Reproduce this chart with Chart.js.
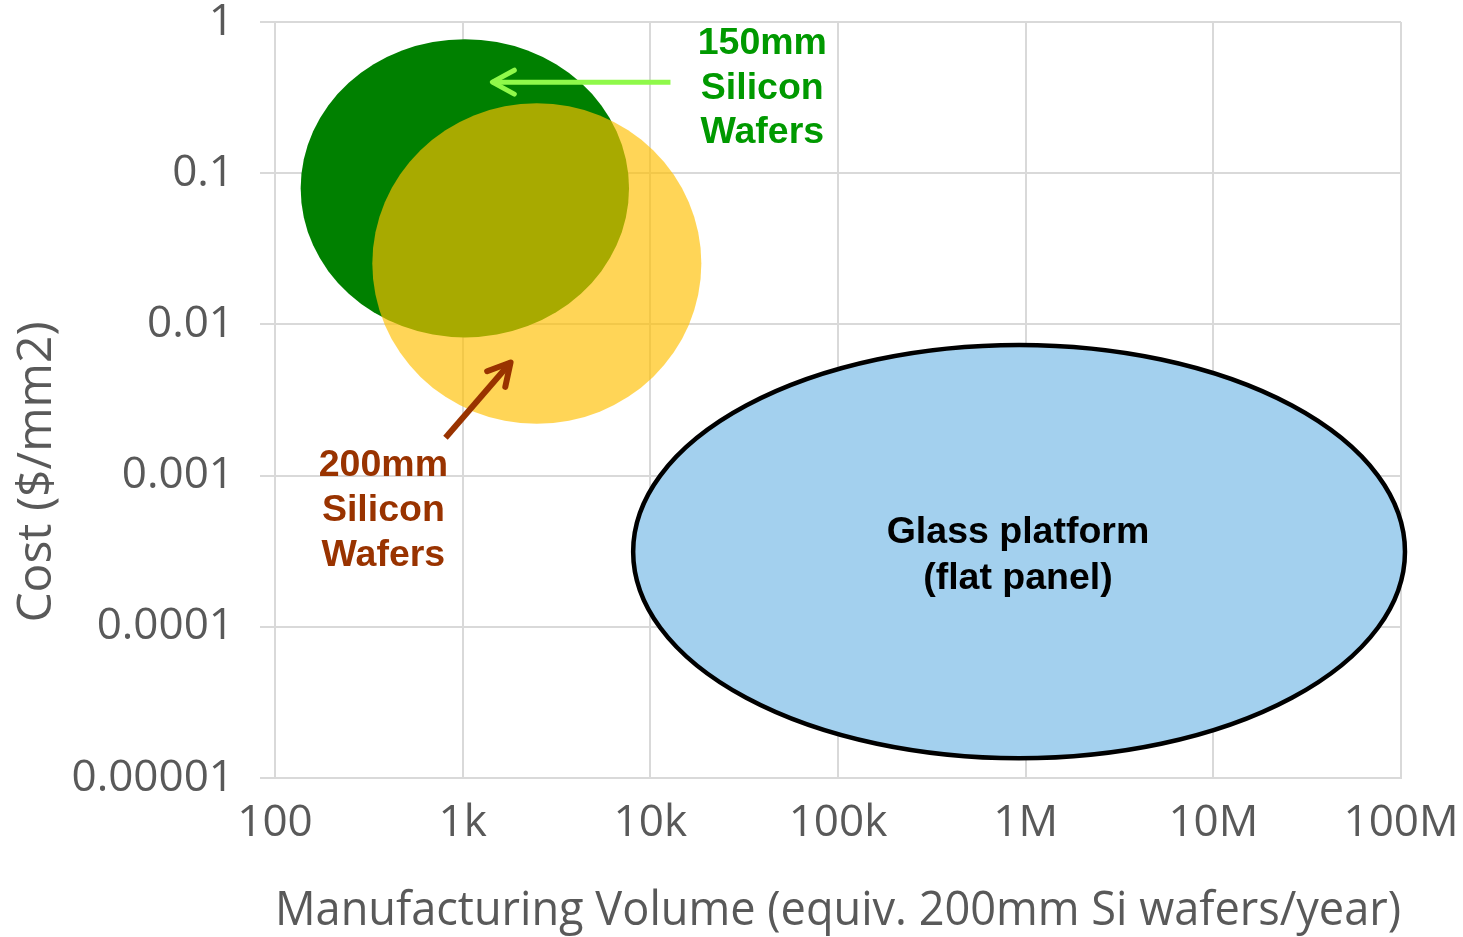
<!DOCTYPE html>
<html>
<head>
<meta charset="utf-8">
<title>Cost vs. manufacturing volume by platform</title>
<script src="https://cdn.jsdelivr.net/npm/chart.js@4/dist/chart.umd.min.js"></script>
<style>
  html, body { margin: 0; padding: 0; background: #ffffff; }
  #wrap { width: 1463px; height: 937px; position: relative; }
</style>
</head>
<body>
<div id="wrap"><canvas id="chart"></canvas></div>
<script>
// Log-decade ticks on both axes
const volumeTicks = [1e2, 1e3, 1e4, 1e5, 1e6, 1e7, 1e8];
const volumeTickLabels = ['100', '1k', '10k', '100k', '1M', '10M', '100M'];
const costTicks = [1e-5, 1e-4, 1e-3, 1e-2, 1e-1, 1];
const costTickLabels = ['0.00001', '0.0001', '0.001', '0.01', '0.1', '1'];

// Platform regions: manufacturing volume range and cost range
const regionNames = ['150mm Silicon Wafers', '200mm Silicon Wafers', 'Glass platform'];
const regionVolumeMin = [137, 330, 8100];
const regionVolumeMax = [7700, 18700, 1.05e8];
const regionCostMin = [0.0082, 0.0022, 1.35e-5];
const regionCostMax = [0.77, 0.29, 0.0073];

// Callout arrows, tail then tip
const arrowVolume = [[12800, 1440], [810, 1800]];
const arrowCost = [[0.40, 0.40], [0.00178, 0.0056]];

// Region labels, anchored at the centre of each text block
const labelLines = [['150mm', 'Silicon', 'Wafers'], ['200mm', 'Silicon', 'Wafers'], ['Glass platform', '(flat panel)']];
const labelVolume = [39500, 378, 9.1e5];
const labelCost = [0.374, 6.03e-4, 3.04e-4];

const regionStyle = [
  { fill: '#008000', stroke: null, width: 0 },
  { fill: 'rgba(255, 192, 0, 0.66)', stroke: null, width: 0 },
  { fill: '#A3D0EE', stroke: '#000000', width: 4.5 }
];
const arrowStyle = [
  { color: '#8FF94A', width: 5, head: 25 },
  { color: '#993300', width: 6, head: 25 }
];
const labelStyle = [
  { color: '#009900', lineHeight: 44.5 },
  { color: '#993300', lineHeight: 45 },
  { color: '#000000', lineHeight: 46 }
];

const AXIS_FONT = '"Open Sans", Lato, sans-serif';
const AXIS_COLOR = '#595959';
const TICK_SIZE = 44;
const TITLE_SIZE = 48;
const LABEL_FONT = 'bold 37.5px "Liberation Sans", Arial, sans-serif';
const LABEL_NUDGE = 2;

// Region datasets: two opposite corners of the bounding box (drawn as ellipses)
const regionDatasets = regionNames.map((name, i) => ({
  label: name,
  data: [
    { x: regionVolumeMin[i], y: regionCostMin[i] },
    { x: regionVolumeMax[i], y: regionCostMax[i] }
  ],
  showLine: false,
  pointRadius: 0,
  pointHoverRadius: 0
}));

// Arrow datasets: straight shafts drawn by the line controller
const arrowDatasets = arrowVolume.map((xs, i) => ({
  label: 'arrow' + i,
  data: [
    { x: xs[0], y: arrowCost[i][0] },
    { x: xs[1], y: arrowCost[i][1] }
  ],
  showLine: true,
  borderColor: arrowStyle[i].color,
  borderWidth: arrowStyle[i].width,
  borderCapStyle: 'butt',
  pointRadius: 0,
  pointHoverRadius: 0,
  fill: false
}));

function boxOf(meta) {
  const a = meta.data[0], b = meta.data[1];
  return {
    cx: (a.x + b.x) / 2, cy: (a.y + b.y) / 2,
    rx: Math.abs(b.x - a.x) / 2, ry: Math.abs(b.y - a.y) / 2
  };
}

const regionPlugin = {
  id: 'regionEllipses',
  beforeDatasetsDraw(chart) {
    const ctx = chart.ctx;
    ctx.save();
    regionNames.forEach((_, i) => {
      const e = boxOf(chart.getDatasetMeta(i));
      const st = regionStyle[i];
      ctx.beginPath();
      ctx.ellipse(e.cx, e.cy, e.rx, e.ry, 0, 0, Math.PI * 2);
      ctx.fillStyle = st.fill;
      ctx.fill();
      if (st.stroke) {
        ctx.lineWidth = st.width;
        ctx.strokeStyle = st.stroke;
        ctx.stroke();
      }
    });
    ctx.restore();
  },
  afterDatasetsDraw(chart) {
    const ctx = chart.ctx;
    const xs = chart.scales.x, ys = chart.scales.y;
    ctx.save();
    // arrowheads at the tip of each shaft
    arrowVolume.forEach((_, i) => {
      const meta = chart.getDatasetMeta(regionNames.length + i);
      const t = meta.data[0], h = meta.data[1];
      const ang = Math.atan2(h.y - t.y, h.x - t.x);
      const len = arrowStyle[i].head, spread = 0.5;
      ctx.beginPath();
      ctx.moveTo(h.x - len * Math.cos(ang - spread), h.y - len * Math.sin(ang - spread));
      ctx.lineTo(h.x, h.y);
      ctx.lineTo(h.x - len * Math.cos(ang + spread), h.y - len * Math.sin(ang + spread));
      ctx.strokeStyle = arrowStyle[i].color;
      ctx.lineWidth = arrowStyle[i].width;
      ctx.lineCap = 'round';
      ctx.lineJoin = 'round';
      ctx.stroke();
    });
    // region labels
    ctx.font = LABEL_FONT;
    ctx.textAlign = 'center';
    ctx.textBaseline = 'middle';
    labelLines.forEach((lines, i) => {
      const px = xs.getPixelForValue(labelVolume[i]);
      const py = ys.getPixelForValue(labelCost[i]) + LABEL_NUDGE;
      const lh = labelStyle[i].lineHeight;
      const y0 = py - (lines.length - 1) * lh / 2;
      ctx.fillStyle = labelStyle[i].color;
      lines.forEach((s, k) => ctx.fillText(s, px, y0 + k * lh));
    });
    ctx.restore();
  },
  afterDraw(chart) {
    // vertical axis title
    const ctx = chart.ctx;
    ctx.save();
    ctx.translate(37, 472);
    ctx.rotate(-Math.PI / 2);
    ctx.font = TITLE_SIZE + 'px ' + AXIS_FONT;
    ctx.fillStyle = AXIS_COLOR;
    ctx.textAlign = 'center';
    ctx.textBaseline = 'middle';
    ctx.fillText('Cost ($/mm2)', 0, 0);
    ctx.restore();
  }
};

new Chart(document.getElementById('chart'), {
  type: 'scatter',
  data: { datasets: regionDatasets.concat(arrowDatasets) },
  options: {
    responsive: true,
    maintainAspectRatio: false,
    animation: false,
    events: [],
    layout: { padding: { left: 0, top: 22, right: 62, bottom: 0 } },
    plugins: { legend: { display: false }, tooltip: { enabled: false } },
    scales: {
      x: {
        type: 'logarithmic',
        min: volumeTicks[0],
        max: volumeTicks[volumeTicks.length - 1],
        afterBuildTicks: s => { s.ticks = volumeTicks.map(v => ({ value: v })); },
        afterFit: s => { s.height = 159; s.paddingLeft = 0; s.paddingRight = 0; },
        ticks: {
          autoSkip: false, maxRotation: 0, minRotation: 0, padding: 19,
          font: { family: AXIS_FONT, size: TICK_SIZE }, color: AXIS_COLOR,
          callback: v => volumeTickLabels[volumeTicks.indexOf(v)]
        },
        grid: { color: '#d9d9d9', lineWidth: 2, drawTicks: false },
        border: { color: '#d9d9d9', width: 2 },
        title: {
          display: true,
          text: 'Manufacturing Volume (equiv. 200mm Si wafers/year)',
          font: { family: AXIS_FONT, size: TITLE_SIZE, lineHeight: 1.08 }, color: AXIS_COLOR,
          padding: { top: 0, bottom: 0 }
        }
      },
      y: {
        type: 'logarithmic',
        min: costTicks[0],
        max: costTicks[costTicks.length - 1],
        afterBuildTicks: s => { s.ticks = costTicks.map(v => ({ value: v })); },
        afterFit: s => { s.width = 275; s.paddingTop = 0; s.paddingBottom = 0; },
        ticks: {
          autoSkip: false, padding: 26,
          font: { family: AXIS_FONT, size: TICK_SIZE }, color: AXIS_COLOR,
          callback: v => costTickLabels[costTicks.indexOf(v)]
        },
        grid: { color: '#d9d9d9', lineWidth: 2, tickLength: 15, drawTicks: true },
        border: { color: '#d9d9d9', width: 2 }
      }
    }
  },
  plugins: [regionPlugin]
});
</script>
</body>
</html>
